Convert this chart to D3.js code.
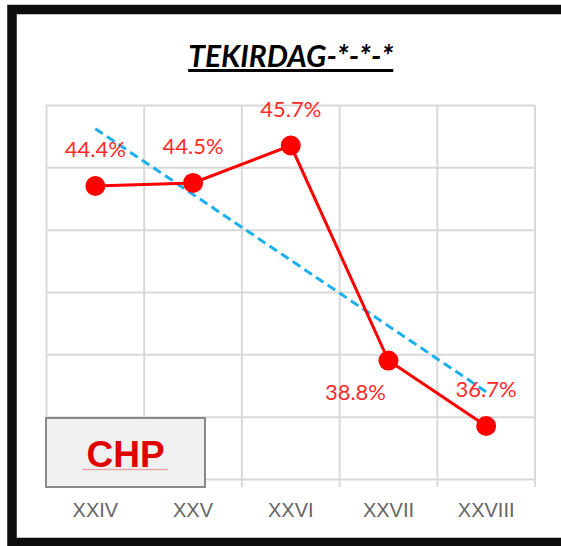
<!DOCTYPE html>
<html>
  <head>
    <style>
    body { margin: 0; background: #fff; }
    svg { display: block; }
    </style>
    <script src="https://d3js.org/d3.v7.min.js"></script>
  </head>
  <body>
    <script type="text/javascript">
    // data
    var categories = ["XXIV", "XXV", "XXVI", "XXVII", "XXVIII"];
    var chpValues = [44.4, 44.5, 45.7, 38.8, 36.7];
    var yTicks = [35, 37, 39, 41, 43, 45, 47];
    var chartTitle = "TEKIRDAG-*-*-*";
    var partyName = "CHP";

    var margin = {top: 105, right: 26, bottom: 67, left: 46.5},
    width = 561 - margin.left - margin.right,
    height = 546 - margin.top - margin.bottom;

    var svg = d3.select("body").append("svg")
      .attr("width", 561)
      .attr("height", 546);

    // outer black frame
    svg.append("rect")
      .attr("x", 12).attr("y", 9.5)
      .attr("width", 600).attr("height", 533)
      .attr("fill", "#fff")
      .attr("stroke", "#0d0d0d")
      .attr("stroke-width", 9.5);

    // title
    svg.append("text")
      .attr("x", margin.left + width / 2)
      .attr("y", 67)
      .attr("text-anchor", "middle")
      .style("font-family", "Lato")
      .style("font-weight", "bold")
      .style("font-style", "italic")
      .style("font-size", "30px")
      .style("text-decoration", "underline")
      .attr("fill", "#000")
      .text(chartTitle);

    var g = svg.append("g")
      .attr("transform", "translate(" + margin.left + "," + margin.top + ")");

    var xScale = d3.scaleBand()
      .domain(categories)
      .range([0, width])
      .padding(0);

    var yScale = d3.scaleLinear()
      .domain([d3.min(yTicks), d3.max(yTicks)])
      .range([height, 0]);

    // horizontal grid
    g.append("g")
      .call(d3.axisLeft(yScale).tickValues(yTicks).tickSize(-width).tickFormat(""))
      .call(function(s) {
        s.select(".domain").remove();
        s.selectAll("line").attr("stroke", "#d9d9d9").attr("stroke-width", 2);
      });

    // vertical grid at category boundaries, with little ticks under the axis
    var bounds = categories.map(function(d) { return xScale(d); }).concat([width]);
    g.selectAll(".vgrid")
      .data(bounds)
      .enter().append("line")
      .attr("class", "vgrid")
      .attr("x1", function(d) { return d; })
      .attr("x2", function(d) { return d; })
      .attr("y1", 0)
      .attr("y2", height + 8)
      .attr("stroke", "#d9d9d9")
      .attr("stroke-width", 2);

    // category labels
    g.append("g")
      .attr("transform", "translate(0," + height + ")")
      .call(d3.axisBottom(xScale).tickSize(0).tickPadding(24))
      .call(function(s) {
        s.select(".domain").remove();
        s.selectAll("text")
          .style("font-family", "Liberation Sans")
          .style("font-size", "20px")
          .attr("fill", "#666");
      });

    var pts = categories.map(function(c, i) { return {cat: c, value: chpValues[i], i: i + 1}; });
    var cx = function(d) { return xScale(d.cat) + xScale.bandwidth() / 2; };

    // linear trend line (least squares, like the spreadsheet trendline)
    var mx = d3.mean(pts, function(d) { return d.i; });
    var my = d3.mean(pts, function(d) { return d.value; });
    var slope = d3.sum(pts, function(d) { return (d.i - mx) * (d.value - my); }) /
                d3.sum(pts, function(d) { return (d.i - mx) * (d.i - mx); });
    var trend = [pts[0], pts[pts.length - 1]].map(function(d) {
      return {cat: d.cat, value: my + slope * (d.i - mx)};
    });

    var line = d3.line()
      .x(cx)
      .y(function(d) { return yScale(d.value); });

    g.append("path")
      .datum(trend)
      .attr("d", line)
      .attr("fill", "none")
      .attr("stroke", "#1cb0ec")
      .attr("stroke-width", 3)
      .attr("stroke-dasharray", "9,5");

    g.append("path")
      .datum(pts)
      .attr("d", line)
      .attr("fill", "none")
      .attr("stroke", "#ff0000")
      .attr("stroke-width", 3);

    g.selectAll(".dot")
      .data(pts)
      .enter().append("circle")
      .attr("class", "dot")
      .attr("cx", cx)
      .attr("cy", function(d) { return yScale(d.value); })
      .attr("r", 10)
      .attr("fill", "#ff0000");

    // data labels: most sit above, XXVII sits below-left
    var labelOffset = [[0, -29], [0, -29], [0, -29], [-33, 39], [0, -29]];
    g.selectAll(".lbl")
      .data(pts)
      .enter().append("text")
      .attr("class", "lbl")
      .attr("x", function(d, i) { return cx(d) + labelOffset[i][0]; })
      .attr("y", function(d, i) { return yScale(d.value) + labelOffset[i][1]; })
      .attr("text-anchor", "middle")
      .style("font-family", "Lato")
      .style("font-size", "22px")
      .attr("fill", "#ff2a2a")
      .text(function(d) { return d.value.toFixed(1) + "%"; });

    // party name box
    svg.append("rect")
      .attr("x", 46).attr("y", 418)
      .attr("width", 159).attr("height", 69)
      .attr("fill", "#f0f0f0")
      .attr("stroke", "#8a8a8a")
      .attr("stroke-width", 2);

    svg.append("line")
      .attr("x1", 82).attr("x2", 168)
      .attr("y1", 469.5).attr("y2", 469.5)
      .attr("stroke", "#e8a6ae")
      .attr("stroke-width", 1.5);

    svg.append("text")
      .attr("x", 125.5)
      .attr("y", 467)
      .attr("text-anchor", "middle")
      .style("font-family", "Liberation Sans")
      .style("font-weight", "bold")
      .style("font-size", "37px")
      .attr("fill", "#e00000")
      .text(partyName);
  </script>
  </body>
</html>
